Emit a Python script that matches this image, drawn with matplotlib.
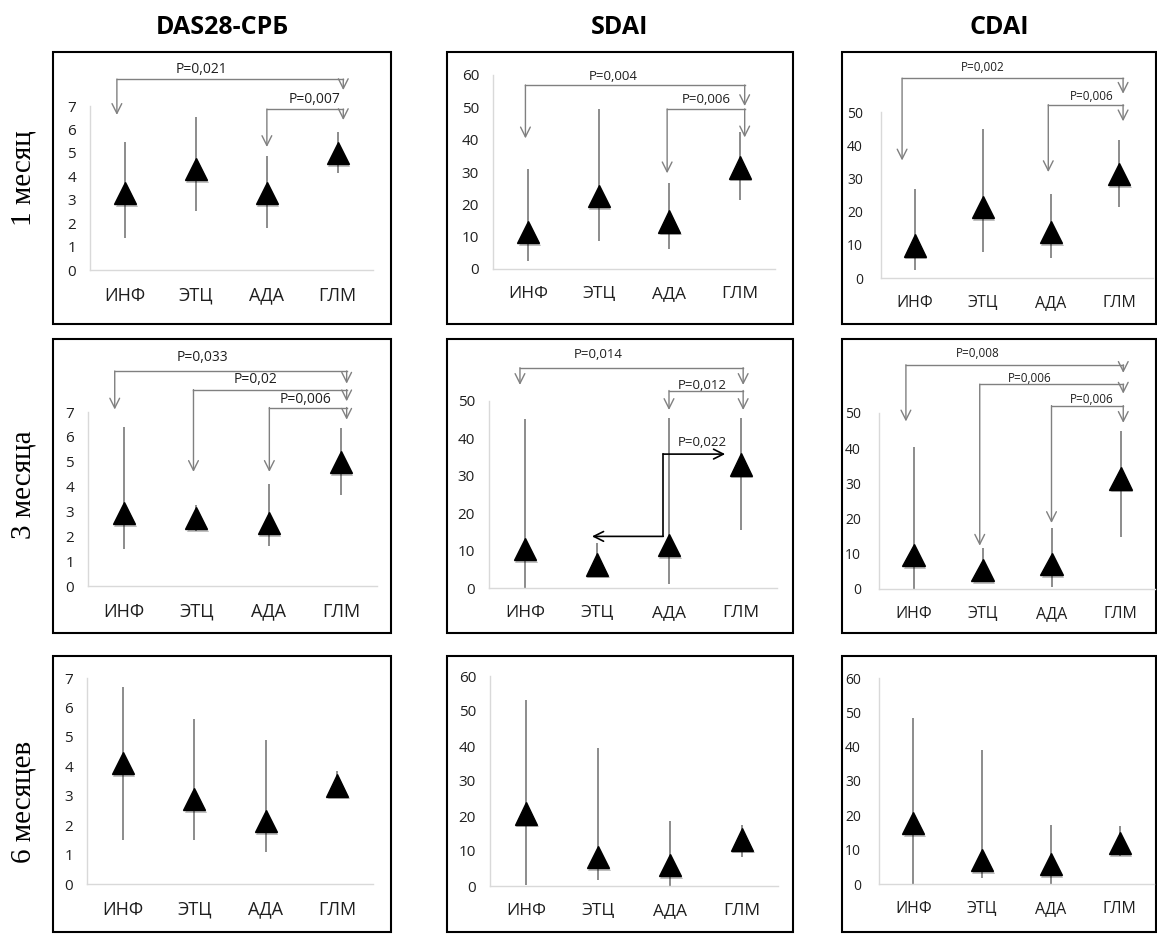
import matplotlib.pyplot as plt
import matplotlib.patheffects as pe
from matplotlib.patches import Rectangle

plt.rcParams['font.family'] = ['Open Sans', 'DejaVu Sans']

# --- data ---
categories = ['ИНФ', 'ЭТЦ', 'АДА', 'ГЛМ']
indices = ['DAS28-СРБ', 'SDAI', 'CDAI']
periods = ['1 месяц', '3 месяца', '6 месяцев']

# 1 month
das_1m_mid = [3.3, 4.3, 3.3, 5.0]
das_1m_lo = [1.35, 2.5, 1.8, 4.15]
das_1m_hi = [5.45, 6.55, 4.85, 5.9]
sdai_1m_mid = [11.5, 22.6, 14.7, 31.4]
sdai_1m_lo = [2.4, 8.7, 6.2, 21.4]
sdai_1m_hi = [30.9, 49.4, 26.5, 42.5]
cdai_1m_mid = [9.8, 21.4, 13.9, 31.4]
cdai_1m_lo = [2.3, 7.8, 6.1, 21.4]
cdai_1m_hi = [26.9, 45.0, 25.4, 41.7]

# 3 months
das_3m_mid = [2.95, 2.75, 2.55, 5.0]
das_3m_lo = [1.47, 2.2, 1.6, 3.65]
das_3m_hi = [6.4, 3.25, 4.1, 6.37]
sdai_3m_mid = [10.5, 6.3, 11.5, 33.0]
sdai_3m_lo = [0.0, 2.9, 1.0, 15.6]
sdai_3m_hi = [45.2, 11.9, 45.4, 45.4]
cdai_3m_mid = [9.6, 5.3, 7.2, 31.4]
cdai_3m_lo = [0.0, 3.6, 0.6, 14.8]
cdai_3m_hi = [40.3, 11.6, 17.3, 45.0]

# 6 months
das_6m_mid = [4.1, 2.9, 2.15, 3.35]
das_6m_lo = [1.5, 1.5, 1.09, 3.1]
das_6m_hi = [6.68, 5.62, 4.9, 3.83]
sdai_6m_mid = [20.7, 8.3, 5.9, 13.3]
sdai_6m_lo = [0.4, 1.8, 0.0, 8.3]
sdai_6m_hi = [53.1, 39.5, 18.5, 17.4]
cdai_6m_mid = [17.8, 7.1, 5.9, 11.9]
cdai_6m_lo = [0.0, 1.7, 0.0, 8.1]
cdai_6m_hi = [48.3, 39.1, 17.3, 17.0]

# p-values shown on the brackets
p_das_1m = ['P=0,021', 'P=0,007']
p_sdai_1m = ['P=0,004', 'P=0,006']
p_cdai_1m = ['P=0,002', 'P=0,006']
p_das_3m = ['P=0,033', 'P=0,02', 'P=0,006']
p_sdai_3m = ['P=0,014', 'P=0,012', 'P=0,022']
p_cdai_3m = ['P=0,008', 'P=0,006', 'P=0,006']

panels = [
    [(das_1m_mid, das_1m_lo, das_1m_hi), (sdai_1m_mid, sdai_1m_lo, sdai_1m_hi), (cdai_1m_mid, cdai_1m_lo, cdai_1m_hi)],
    [(das_3m_mid, das_3m_lo, das_3m_hi), (sdai_3m_mid, sdai_3m_lo, sdai_3m_hi), (cdai_3m_mid, cdai_3m_lo, cdai_3m_hi)],
    [(das_6m_mid, das_6m_lo, das_6m_hi), (sdai_6m_mid, sdai_6m_lo, sdai_6m_hi), (cdai_6m_mid, cdai_6m_lo, cdai_6m_hi)],
]
y_max = [[7, 60, 50], [7, 50, 50], [7, 60, 60]]
y_step = [[1, 10, 10], [1, 10, 10], [1, 10, 10]]

# --- layout (pixels) ---
W, H = 1157, 934
box_x = [(53, 391), (447, 793), (842, 1156)]
box_y = [(52, 324), (339, 633), (656, 932)]
# inner plot area: x left, x right, y of zero, y of top
axes_px = [
    [(90, 373, 270, 106), (493, 775, 269, 75), (881, 1153, 278, 112)],
    [(88, 377, 586, 412), (489, 777, 588, 401), (879, 1155, 589, 413)],
    [(87, 373, 884, 678), (490, 778, 886, 676), (879, 1154, 884, 678)],
]
ytick_fs = [11, 11, 10]
xtick_fs = [13, 12.5, 11.5]
p_fs = [10, 9.5, 8.5]
ypad = [10, 10, 13]

# bracket geometry: (x left, tip left, x right, tip right, bar y, text x, text y)
brackets = {
    (0, 0): (p_das_1m, [(-0.12, 6.62, 3.08, 7.68, 8.15, 1.08, 8.55),
                        (2.0, 5.25, 3.08, 6.4, 6.87, 2.68, 7.27)]),
    (0, 1): (p_sdai_1m, [(-0.04, 40.4, 3.07, 50.4, 56.9, 1.21, 59.6),
                         (1.97, 29.6, 3.07, 40.7, 49.5, 2.52, 52.4)]),
    (0, 2): (p_cdai_1m, [(-0.19, 35.4, 3.06, 55.5, 60.2, 0.99, 63.4),
                         (1.96, 31.9, 3.06, 47.2, 52.2, 2.6, 54.6)]),
    (1, 0): (p_das_3m, [(-0.13, 7.1, 3.08, 8.14, 8.65, 1.08, 9.2),
                        (0.96, 4.59, 3.08, 7.43, 7.9, 1.82, 8.32),
                        (2.01, 4.59, 3.08, 6.69, 7.18, 2.51, 7.5)]),
    (1, 1): (p_sdai_3m[:2], [(-0.07, 54.3, 3.03, 54.3, 58.9, 1.01, 62.3),
                             (2.0, 47.6, 3.03, 47.6, 52.8, 2.46, 54.2)]),
    (1, 2): (p_cdai_3m, [(-0.11, 47.6, 3.04, 61.4, 63.7, 0.93, 66.9),
                         (0.96, 12.3, 3.04, 55.5, 58.2, 1.69, 59.8),
                         (2.0, 18.75, 3.04, 47.2, 52.1, 2.59, 53.9)]),
}

grey = '#808080'
txt = '#1f1f1f'
head = '->,head_length=0.7,head_width=0.35'

fig = plt.figure(figsize=(W / 100, H / 100), dpi=100)
bg = fig.add_axes([0, 0, 1, 1], zorder=-1)
bg.set_xlim(0, W)
bg.set_ylim(H, 0)
bg.axis('off')

# column titles and row labels
for j, name in enumerate(indices):
    bg.text(sum(box_x[j]) / 2, 28, name, ha='center', va='center',
            fontsize=18, fontweight='bold', color='black')
row_centers = [178, 485, 802]
for i, name in enumerate(periods):
    bg.text(24, row_centers[i], name, rotation=90, ha='center', va='center',
            fontsize=21, family='Liberation Serif', color='black')

# outer boxes
for i in range(3):
    for j in range(3):
        x0, x1 = box_x[j]
        y0, y1 = box_y[i]
        bg.add_patch(Rectangle((x0, y0), x1 - x0, y1 - y0, fill=False,
                               edgecolor='black', lw=1.5))


def arrow(ax, x0, y0, x1, y1, color=grey, lw=1.0):
    ax.annotate('', xy=(x1, y1), xytext=(x0, y0), annotation_clip=False,
                arrowprops=dict(arrowstyle=head, color=color, lw=lw,
                                shrinkA=0, shrinkB=0))


shadow = [pe.SimplePatchShadow(offset=(1, -2), shadow_rgbFace='black', alpha=0.25),
          pe.Normal()]

for i in range(3):
    for j in range(3):
        xl, xr, y0, yt = axes_px[i][j]
        ax = fig.add_axes([xl / W, 1 - y0 / H, (xr - xl) / W, (y0 - yt) / H])
        mid, lo, hi = panels[i][j]
        xs = range(len(categories))
        ax.vlines(xs, lo, hi, color='#6e6e6e', lw=1.1, zorder=2)
        ax.plot(xs, mid, linestyle='none', marker='^', markersize=16,
                color='black', zorder=3, path_effects=shadow)

        ax.set_xlim(-0.5, 3.5)
        ax.set_ylim(0, y_max[i][j])
        ax.set_yticks(range(0, y_max[i][j] + 1, y_step[i][j]))
        ax.set_xticks(list(xs))
        ax.set_xticklabels(categories)
        ax.tick_params(length=0, colors=txt)
        ax.tick_params(axis='y', labelsize=ytick_fs[j], pad=ypad[j])
        ax.tick_params(axis='x', labelsize=xtick_fs[j], pad=12)
        for s in ['top', 'right']:
            ax.spines[s].set_visible(False)
        for s in ['left', 'bottom']:
            ax.spines[s].set_color('#d9d9d9')
            ax.spines[s].set_linewidth(1.0)
        ax.patch.set_alpha(0)

        if (i, j) in brackets:
            labels, geo = brackets[(i, j)]
            for lab, (xa, ta, xb, tb, yb, tx, ty) in zip(labels, geo):
                ax.plot([xa, xb], [yb, yb], color=grey, lw=1.0, clip_on=False)
                arrow(ax, xa, yb, xa, ta)
                arrow(ax, xb, yb, xb, tb)
                ax.text(tx, ty, lab, ha='center', va='center',
                        fontsize=p_fs[j], color=txt)

        if (i, j) == (1, 1):
            # black elbow arrow: АДА -> ЭТЦ and АДА -> ГЛМ
            xc, ylow, yhigh = 1.92, 13.8, 35.8
            ax.plot([xc, xc], [ylow, yhigh], color='black', lw=1.2, clip_on=False)
            arrow(ax, xc, ylow, 0.93, ylow, color='black', lw=1.2)
            arrow(ax, xc, yhigh, 2.78, yhigh, color='black', lw=1.2)
            ax.text(2.46, 38.8, p_sdai_3m[2], ha='center', va='center',
                    fontsize=p_fs[j], color=txt)

fig.savefig('out.png', dpi=100)
